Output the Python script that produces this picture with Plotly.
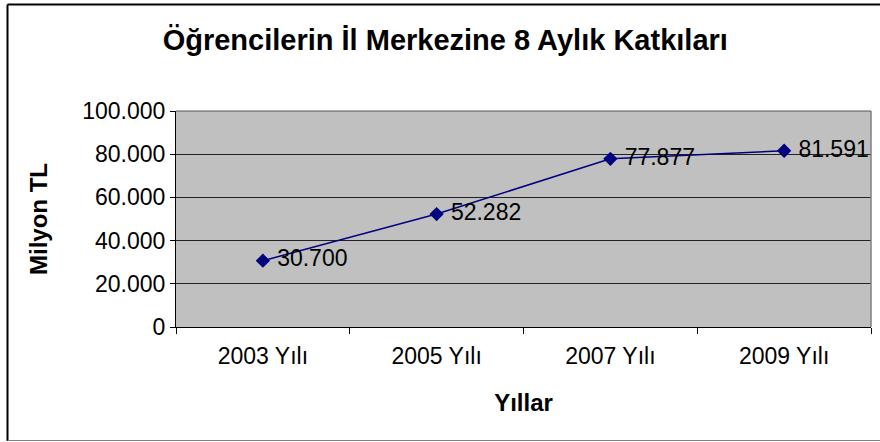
import plotly.graph_objects as go

categories = ["2003 Yılı", "2005 Yılı", "2007 Yılı", "2009 Yılı"]
values = [30700, 52282, 77877, 81591]
y_ticks = [0, 20000, 40000, 60000, 80000, 100000]

W, H = 880, 442
L, R, T, B = 176, 9, 111, 115
pw, ph = W - L - R, H - T - B

def px_x(p):
    return (p - L) / pw

def px_y(p):
    return (H - B - p) / ph

FONT = "Liberation Sans, Arial, sans-serif"
NAVY = "#000080"

fig = go.Figure()
fig.add_trace(go.Scatter(
    x=categories, y=values, mode="lines+markers+text",
    line=dict(color=NAVY, width=1.5),
    marker=dict(symbol="diamond", size=11, color=NAVY),
    texttemplate=" %{y:,.0f}", textposition="middle right",
    textfont=dict(family=FONT, size=23, color="black"),
    cliponaxis=False, showlegend=False,
))

fig.update_layout(
    width=W, height=H,
    margin=dict(l=L, r=R, t=T, b=B),
    paper_bgcolor="white", plot_bgcolor="#C0C0C0",
    separators=",.",
    title=dict(text="<b>Öğrencilerin İl Merkezine 8 Aylık Katkıları</b>",
               x=0.506, xanchor="center", y=1 - 40 / H, yanchor="middle",
               font=dict(family=FONT, size=29, color="black")),
    xaxis=dict(type="category", range=[-0.5, 3.5], showgrid=False,
               showline=True, linecolor="black", linewidth=1,
               ticks="outside", tickson="boundaries", ticklen=6, tickcolor="black",
               ticklabelstandoff=8,
               tickfont=dict(family=FONT, size=23, color="black"),
               title=dict(text="<b>Yıllar</b>", standoff=26,
                          font=dict(family=FONT, size=24, color="black"))),
    yaxis=dict(range=[0, 100000], tickvals=y_ticks, tickformat=",.0f",
               showgrid=True, gridcolor="#222222", gridwidth=1, zeroline=False,
               showline=True, linecolor="black", linewidth=1,
               ticks="outside", ticklen=5, tickcolor="black",
               tickfont=dict(family=FONT, size=23, color="black"),
               title=dict(text="<b>Milyon TL</b>", standoff=27,
                          font=dict(family=FONT, size=24, color="black"))),
)

# plot area border (right / top)
fig.add_shape(type="line", xref="paper", yref="paper", x0=1, x1=1, y0=0, y1=1,
              line=dict(color="#808080", width=1.5))
fig.add_shape(type="line", xref="paper", yref="paper", x0=0, x1=1, y0=1, y1=1,
              line=dict(color="#555555", width=1))
# outer chart border
fig.add_shape(type="line", xref="paper", yref="paper",
              x0=px_x(7.5), x1=px_x(890), y0=px_y(4.5), y1=px_y(4.5),
              line=dict(color="black", width=2))
fig.add_shape(type="line", xref="paper", yref="paper",
              x0=px_x(7.5), x1=px_x(7.5), y0=px_y(4.5), y1=px_y(441),
              line=dict(color="black", width=2))
fig.add_shape(type="line", xref="paper", yref="paper",
              x0=px_x(7.5), x1=px_x(890), y0=px_y(440.5), y1=px_y(440.5),
              line=dict(color="#808080", width=1))

fig.write_html("out.html", config={"displayModeBar": False},
               post_script="document.body.style.margin='0';")
